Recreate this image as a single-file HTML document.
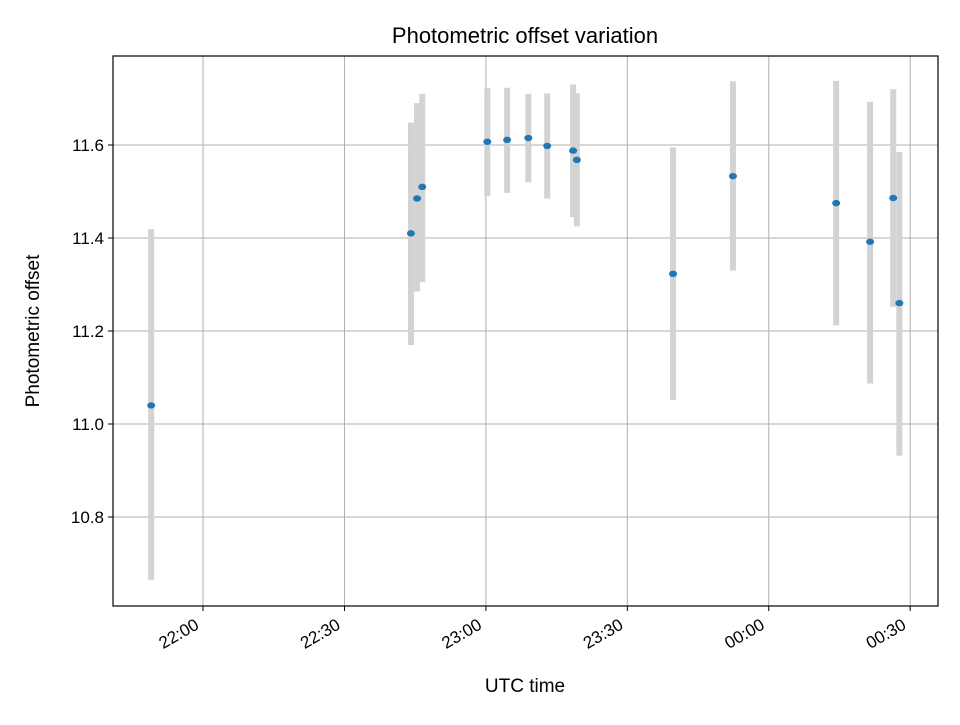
<!DOCTYPE html>
<html><head><meta charset="utf-8"><style>
body{margin:0;background:#fff;}
svg{font-family:"Liberation Sans","DejaVu Sans",sans-serif;}
</style></head><body>
<svg id="chart" width="960" height="720" xmlns="http://www.w3.org/2000/svg">
<rect width="960" height="720" fill="#fff"/>
<g id="grid"></g>
<g id="bars"></g>
<g id="pts"></g>
<rect x="113" y="56" width="825" height="550" fill="none" stroke="#000" stroke-width="1.2"/>
<g id="axes"></g>
<text x="525" y="43" text-anchor="middle" font-size="22">Photometric offset variation</text>
<text x="525" y="692" text-anchor="middle" font-size="19">UTC time</text>
<text transform="translate(39,331) rotate(-90)" text-anchor="middle" font-size="19">Photometric offset</text>
</svg>
<script>
// minutes after 22:00 UTC
const times = [-11, 44.1, 45.4, 46.5, 60.3, 64.5, 69, 73, 78.5, 79.3, 99.7, 112.4, 134.3, 141.5, 146.4, 147.7];
const values = [11.04, 11.41, 11.485, 11.51, 11.607, 11.611, 11.615, 11.598, 11.588, 11.568, 11.323, 11.533, 11.475, 11.392, 11.486, 11.26];
const lows = [10.665, 11.17, 11.285, 11.305, 11.49, 11.497, 11.52, 11.485, 11.445, 11.425, 11.052, 11.33, 11.212, 11.087, 11.252, 10.932];
const highs = [11.419, 11.648, 11.69, 11.71, 11.722, 11.723, 11.71, 11.711, 11.73, 11.711, 11.595, 11.737, 11.738, 11.693, 11.72, 11.585];
const xTickVals = [0, 30, 60, 90, 120, 150];
const xTickLabels = ["22:00", "22:30", "23:00", "23:30", "00:00", "00:30"];
const yTickVals = [10.8, 11.0, 11.2, 11.4, 11.6];
const yTickLabels = ["10.8", "11.0", "11.2", "11.4", "11.6"];

const X0=113,X1=938,Y0=56,Y1=606;
const xMin=-19.1,xMax=155.9,yMin=10.6086,yMax=11.7914;
const sx=v=>X0+(v-xMin)/(xMax-xMin)*(X1-X0);
const sy=v=>Y1-(v-yMin)/(yMax-yMin)*(Y1-Y0);
const NS="http://www.w3.org/2000/svg";
function mk(tag,attrs,parent){const e=document.createElementNS(NS,tag);for(const k in attrs)e.setAttribute(k,attrs[k]);document.getElementById(parent).appendChild(e);return e;}

xTickVals.forEach((v,i)=>{
  const x=sx(v);
  const g=mk('line',{x1:x,x2:x,y1:Y0,y2:Y1,stroke:'#b0b0b0','stroke-width':1},'grid');
  
  
  const t=mk('line',{x1:x,x2:x,y1:Y1,y2:Y1+5,stroke:'#000','stroke-width':1},'axes');
  
  
  const lx=x-3, ly=Y1+22;
  const l=mk('text',{x:lx,y:ly,'font-size':17,'text-anchor':'end',transform:`rotate(-30 ${lx} ${ly})`},'axes');
  l.textContent=xTickLabels[i];
  
  
});
yTickVals.forEach((v,i)=>{
  const y=sy(v);
  const g=mk('line',{x1:X0,x2:X1,y1:y,y2:y,stroke:'#b0b0b0','stroke-width':1},'grid');
  
  
  const t=mk('line',{x1:X0-5,x2:X0,y1:y,y2:y,stroke:'#000','stroke-width':1},'axes');
  
  
  const l=mk('text',{x:X0-9,y:y+6,'font-size':17,'text-anchor':'end'},'axes');
  l.textContent=yTickLabels[i];
  
  
});
times.forEach((t,i)=>{
  const x=sx(t);
  const b=mk('line',{x1:x,x2:x,y1:sy(highs[i]),y2:sy(lows[i]),stroke:'#d3d3d3','stroke-width':6},'bars');
  
  
});
times.forEach((t,i)=>{
  const p=mk('ellipse',{cx:sx(t),cy:sy(values[i]),rx:4,ry:3.2,fill:'#1f77b4'},'pts');
  
  
});
</script>
</body></html>
